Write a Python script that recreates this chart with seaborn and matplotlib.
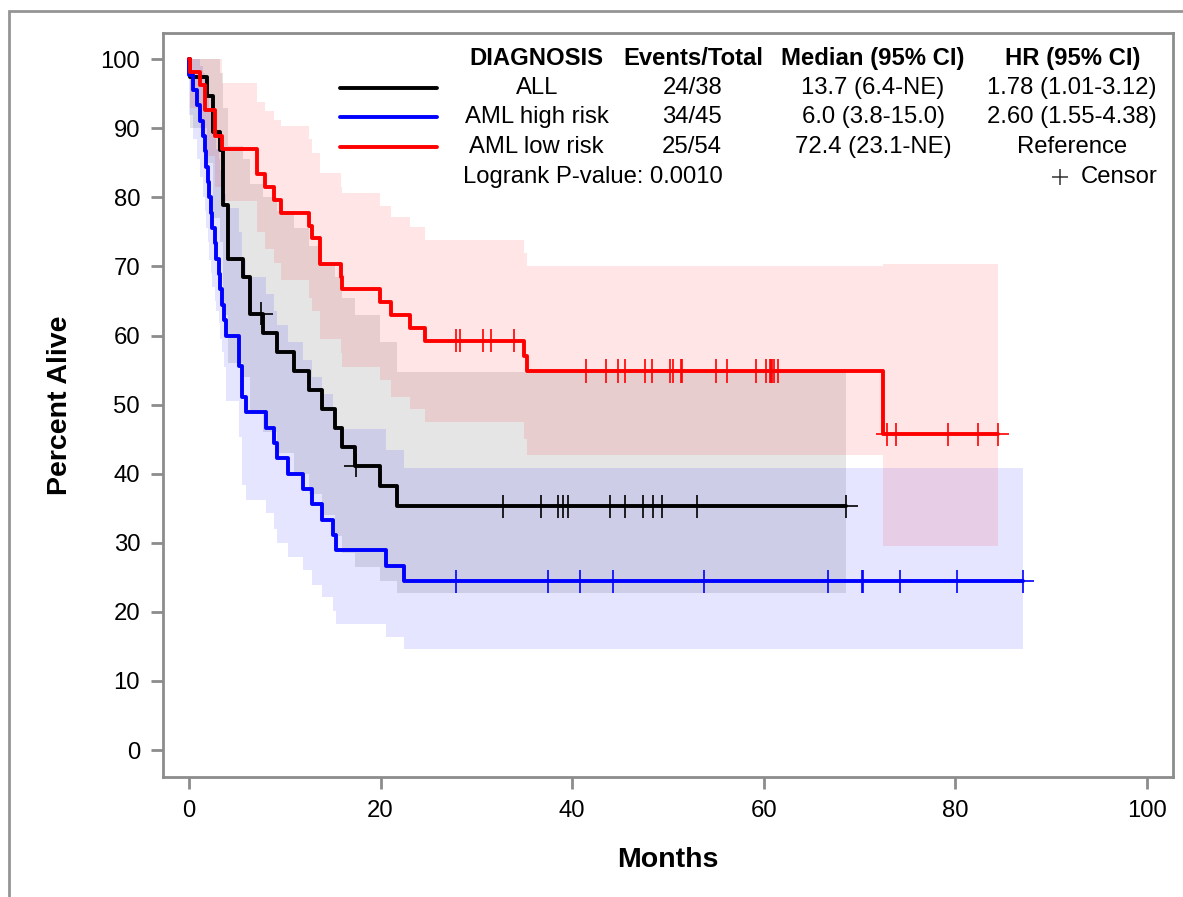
import numpy as np
import pandas as pd
import matplotlib.pyplot as plt
import seaborn as sns
from matplotlib.patches import Rectangle
from matplotlib.lines import Line2D

groups = ['ALL', 'AML high risk', 'AML low risk']
palette = {'ALL': '#000000', 'AML high risk': '#0000ff', 'AML low risk': '#ff0000'}

# ALL
all_t = [0, 0.1, 1.9, 2.5, 3.3, 3.6, 4.1, 5.67, 6.37, 7.7, 9.15, 11.0, 12.56, 13.85, 15.3, 16.0, 17.3, 19.9, 21.7]
all_s = [100, 97.37, 94.74, 89.47, 86.84, 78.95, 71.05, 68.42, 63.16, 60.41, 57.66, 54.91, 52.17, 49.42,
         46.67, 43.93, 41.18, 38.24, 35.29]
all_hi = [100, 100, 100, 100, 98, 93, 87.5, 85.5, 82, 80, 78, 75.5, 73, 70.5, 68.5, 65.5, 63, 59, 54.7]
all_lo = [100, 90, 85, 77, 73.5, 63, 56, 54, 49, 46, 43, 40, 37, 34, 31, 28.5, 26.5, 24.5, 22.8]
all_end = 68.6
all_cens = [7.55, 17.45, 32.8, 36.7, 38.5, 39.05, 39.6, 43.9, 45.5, 47.4, 48.4, 49.4, 53.0, 68.6]

# AML high risk
hr_t = [0, 0.05, 0.45, 0.9, 1.2, 1.5, 1.65, 1.8, 2.0, 2.1, 2.3, 2.45, 2.7, 2.8, 3.1, 3.3, 3.5, 3.7, 3.9,
        5.25, 5.5, 6.0, 8.04, 8.9, 9.2, 10.37, 11.9, 12.9, 13.9, 15.07, 15.35, 20.6, 22.4]
hr_s = [100, 97.78, 95.56, 93.33, 91.11, 88.89, 86.67, 84.44, 82.22, 80.0, 77.78, 75.56, 73.33, 71.11,
        68.89, 66.67, 64.44, 62.22, 60.0, 55.56, 51.11, 48.89, 46.67, 44.44, 42.22, 40.0, 37.78, 35.56,
        33.33, 31.11, 28.89, 26.67, 24.44]
hr_hi = [100, 100, 100, 100, 99, 98, 97, 96, 94.5, 93, 91.5, 90, 88.5, 87, 85.5, 84, 82, 80.5, 78.5,
         75, 71, 68.5, 66, 63.5, 61.5, 59, 56.5, 54, 51.5, 49, 46.5, 43.5, 40.8]
hr_lo = [100, 92, 88.5, 85.5, 83, 80, 78, 75.5, 73.5, 71, 69, 67, 65, 63.5, 61.8, 59.5, 57.6, 55.5, 50.5,
         45.3, 38.4, 36.2, 34.3, 32, 30.0, 28.0, 26.0, 23.9, 22.2, 20.2, 18.3, 16.4, 14.7]
hr_end = 87.0
hr_cens = [27.9, 37.5, 40.8, 44.3, 53.8, 66.7, 70.2, 70.4, 74.2, 80.2, 87.0]

# AML low risk
lr_t = [0, 0.1, 1.15, 1.67, 2.7, 3.5, 7.07, 7.9, 8.9, 9.6, 12.56, 12.9, 13.7, 15.9, 16.0, 19.9, 21.1,
        23.07, 24.6, 35.0, 35.3, 72.4]
lr_s = [100, 98.15, 96.3, 92.59, 88.89, 87.04, 83.33, 81.48, 79.63, 77.78, 75.93, 74.07, 70.37, 68.52,
        66.67, 64.81, 62.96, 61.11, 59.26, 57.04, 54.87, 45.72]
lr_hi = [100, 100, 100, 100, 100, 96.5, 93.8, 92.5, 91.2, 90.4, 88.5, 86.5, 83.5, 81.5, 80.6, 78.8, 77.2,
         75.7, 73.9, 72.0, 70.0, 70.4]
lr_lo = [100, 93, 90, 86, 81.5, 79.5, 75, 72.5, 70.5, 68, 65.5, 63.5, 59.5, 57.5, 55.5, 53.5, 51.1, 49.4,
         47.5, 45.0, 42.7, 29.5]
lr_end = 84.4
lr_cens = [27.9, 28.3, 30.65, 31.5, 33.9, 41.4, 43.5, 44.8, 45.5, 47.6, 48.3, 50.2, 50.5, 51.4, 51.5,
           55.0, 56.2, 59.15, 60.2, 60.6, 60.75, 60.9, 61.1, 61.45, 72.9, 73.8, 79.2, 82.4, 84.4]

# table text
events_total = ['24/38', '34/45', '25/54']
median_ci = ['13.7 (6.4-NE)', '6.0 (3.8-15.0)', '72.4 (23.1-NE)']
hr_ci = ['1.78 (1.01-3.12)', '2.60 (1.55-4.38)', 'Reference']
logrank_p = 'Logrank P-value: 0.0010'

curves = {
    'ALL': (all_t, all_s, all_lo, all_hi, all_end, all_cens),
    'AML high risk': (hr_t, hr_s, hr_lo, hr_hi, hr_end, hr_cens),
    'AML low risk': (lr_t, lr_s, lr_lo, lr_hi, lr_end, lr_cens),
}

rows = []
cens_rows = []
for g, (t, s, lo, hi, end, cens) in curves.items():
    for ti, si in zip(t + [end], s + [s[-1]]):
        rows.append({'group': g, 'time': ti, 'surv': si})
    for c in cens:
        idx = np.searchsorted(t, c, side='right') - 1
        cens_rows.append({'group': g, 'time': c, 'surv': s[idx]})
km = pd.DataFrame(rows)
cens_df = pd.DataFrame(cens_rows)

sns.set_style('white')
plt.rcParams['font.family'] = ['Liberation Sans', 'DejaVu Sans']
plt.rcParams['text.color'] = 'black'
plt.rcParams['axes.labelcolor'] = 'black'
plt.rcParams['xtick.labelcolor'] = 'black'
plt.rcParams['ytick.labelcolor'] = 'black'

fig = plt.figure(figsize=(11.83, 8.97), dpi=100)
ax = fig.add_axes([163 / 1183, 1 - 777 / 897, 1010 / 1183, 744 / 897])

for g, (t, s, lo, hi, end, cens) in curves.items():
    ax.fill_between(t + [end], lo + [lo[-1]], hi + [hi[-1]], step='post',
                    color=palette[g], alpha=0.1, linewidth=0)

sns.lineplot(data=km, x='time', y='surv', hue='group', hue_order=groups, palette=palette,
             estimator=None, drawstyle='steps-post', linewidth=2.8, legend=False, ax=ax)
sns.scatterplot(data=cens_df, x='time', y='surv', hue='group', hue_order=groups, palette=palette,
                marker='+', s=280, linewidth=1.2, legend=False, ax=ax, zorder=5)

ax.set_xlim(-2.7, 102.7)
ax.set_ylim(-3.9, 103.8)
ax.set_xticks(range(0, 101, 20))
ax.set_yticks(range(0, 101, 10))
ax.set_xlabel('Months', fontsize=20.5, fontweight='bold', labelpad=18)
ax.set_ylabel('Percent Alive', fontsize=20.5, fontweight='bold', labelpad=20)
for sp in ax.spines.values():
    sp.set_color('#8c8c8c')
    sp.set_linewidth(2)
ax.tick_params(axis='both', length=8.5, width=2, color='#8c8c8c', labelsize=17.2, pad=8,
               labelcolor='black', bottom=True, left=True)

# legend table
tr = ax.transAxes
fs = 17.2
row_y = [0.926, 0.887, 0.847]
ax.text(0.370, 0.966, 'DIAGNOSIS', transform=tr, ha='center', va='center', fontsize=fs, fontweight='bold')
ax.text(0.525, 0.966, 'Events/Total', transform=tr, ha='center', va='center', fontsize=fs, fontweight='bold')
ax.text(0.703, 0.966, 'Median (95% CI)', transform=tr, ha='center', va='center', fontsize=fs, fontweight='bold')
ax.text(0.901, 0.966, 'HR (95% CI)', transform=tr, ha='center', va='center', fontsize=fs, fontweight='bold')
for i, g in enumerate(groups):
    y = row_y[i]
    ax.add_line(Line2D([0.175, 0.271], [y, y], transform=tr, color=palette[g], lw=2.8))
    ax.text(0.370, y, g, transform=tr, ha='center', va='center', fontsize=fs)
    ax.text(0.524, y, events_total[i], transform=tr, ha='center', va='center', fontsize=fs)
    ax.text(0.703, y, median_ci[i], transform=tr, ha='center', va='center', fontsize=fs)
    ax.text(0.900, y, hr_ci[i], transform=tr, ha='center', va='center', fontsize=fs)
ax.text(0.297, 0.806, logrank_p, transform=tr, ha='left', va='center', fontsize=fs)
ax.plot([0.888], [0.806], transform=tr, marker='+', ms=12, mew=1.1, color='#333333')
ax.text(0.985, 0.806, 'Censor', transform=tr, ha='right', va='center', fontsize=fs)

# outer frame
fig.patches.append(Rectangle((9 / 1183, -0.05), 1.1, 1 - 11 / 897 + 0.05, transform=fig.transFigure,
                             fill=False, edgecolor='#959595', linewidth=2))

fig.savefig('out.png', dpi=100)
